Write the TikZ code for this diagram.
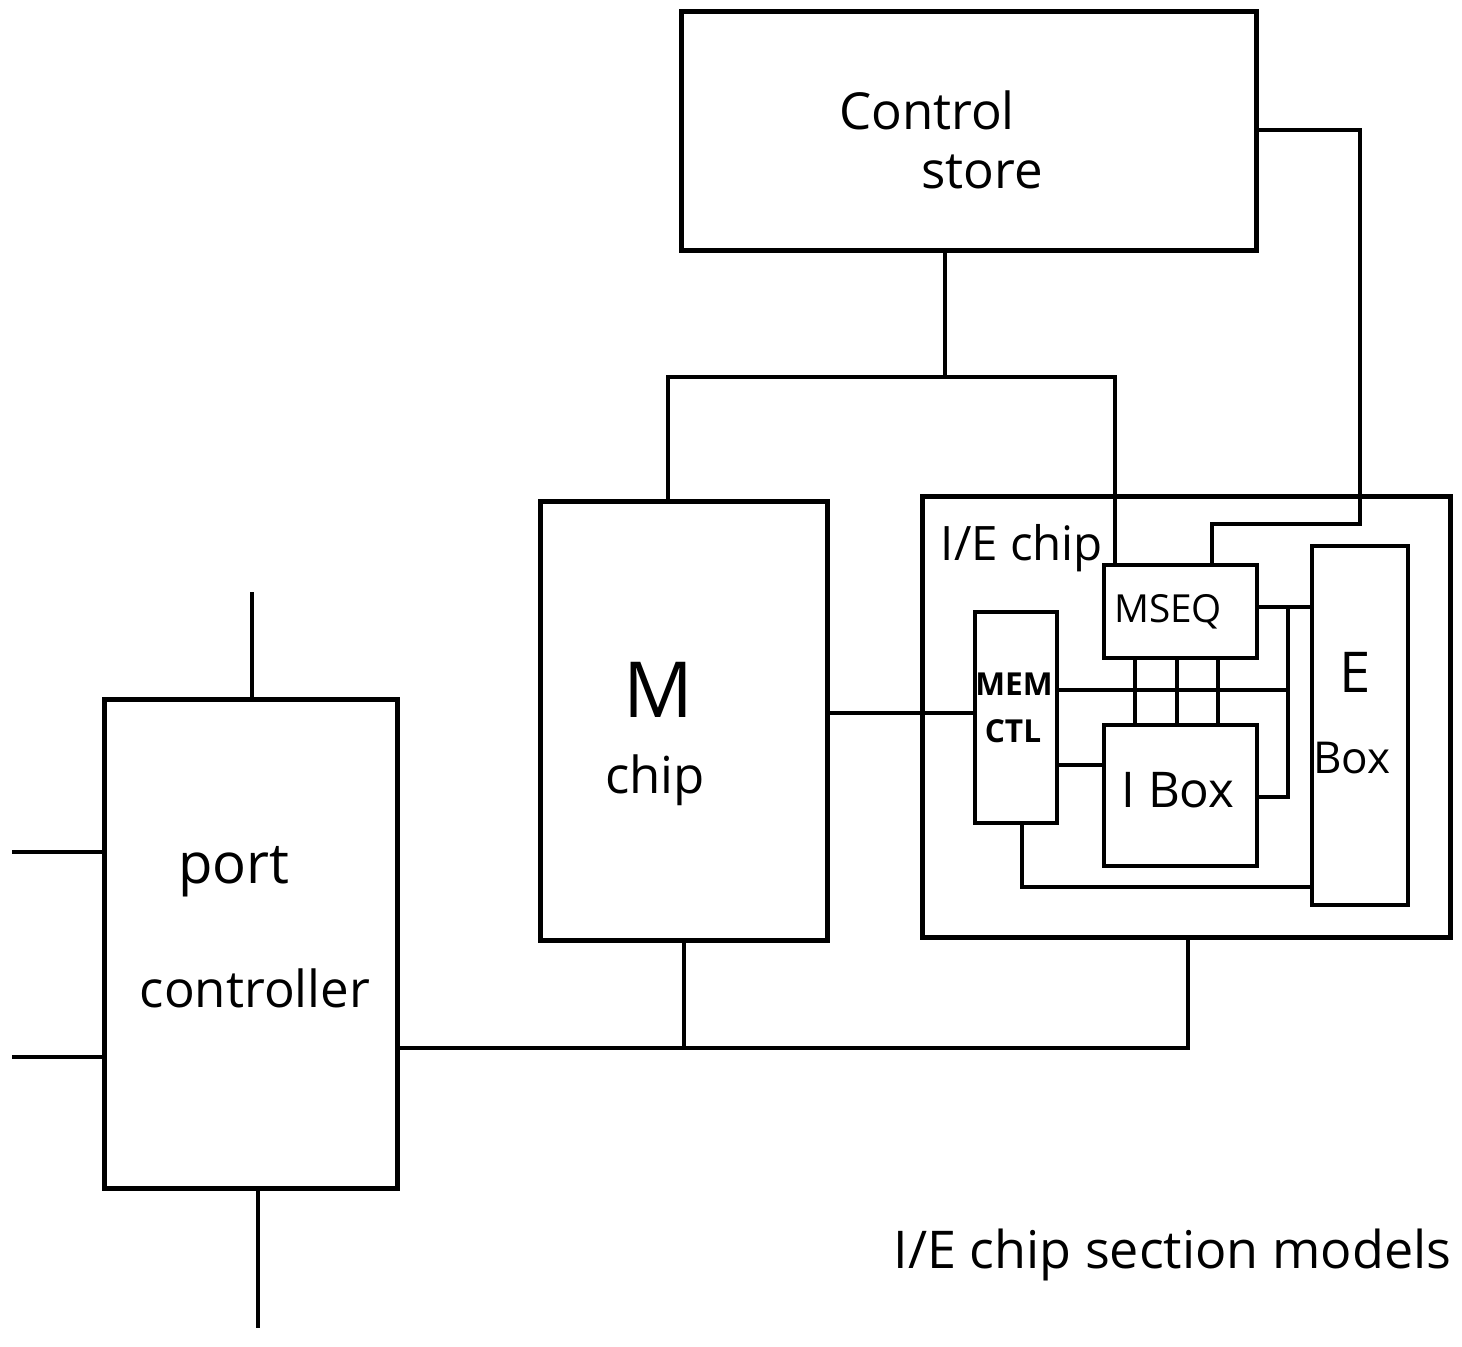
\documentclass[tikz,border=0pt]{standalone}
\usepackage{fontspec}
\setmainfont{Open Sans}
\begin{document}
\begin{tikzpicture}[x=0.01cm,y=-0.01cm,
  blk/.style={draw,line width=1.4pt,rectangle,inner sep=0pt},
  sub/.style={draw,line width=1.1pt,rectangle,inner sep=0pt},
  wire/.style={line width=1.2pt},
  thin/.style={line width=0.9pt},
  big/.style={font=\fontsize{14.5}{17}\selectfont,inner sep=0pt},
  mid/.style={font=\fontsize{13}{16}\selectfont,inner sep=0pt},
  small/.style={font=\fontsize{9}{11}\selectfont\bfseries,inner sep=0pt}]
\useasboundingbox (0,0) rectangle (1462,1347);
% boxes
\node[blk,minimum width=5.74cm,minimum height=2.38cm] (cs) at (969,131) {};
\node[blk,minimum width=2.86cm,minimum height=4.38cm] (mchip) at (684,721) {};
\node[blk,minimum width=2.92cm,minimum height=4.88cm] (pc) at (251,944) {};
\node[blk,minimum width=5.27cm,minimum height=4.40cm] (ie) at (1186.5,717) {};
\node[sub,minimum width=0.82cm,minimum height=2.11cm] (memctl) at (1016,717.5) {};
\node[sub,minimum width=1.53cm,minimum height=0.93cm] (mseq) at (1180.5,611.5) {};
\node[sub,minimum width=1.53cm,minimum height=1.41cm] (ibox) at (1180.5,795.5) {};
\node[sub,minimum width=0.96cm,minimum height=3.59cm] (ebox) at (1360,725.5) {};
% texts
\node[big] (t1) at (927,110) {Control};
\node[big] (t2) at (982,172) {store};
\node[big,font=\fontsize{22}{26}\selectfont] (t3) at (658,690) {M};
\node[big] (t4) at (655,780) {chip};
\node[big,font=\fontsize{16}{19}\selectfont] (t5) at (234,872) {port};
\node[big] (t6) at (255,988) {controller};
\node[mid,font=\fontsize{13.5}{16}\selectfont] (t7) at (1022,548) {I/E chip};
\node[mid,font=\fontsize{11}{13}\selectfont] (t8) at (1168,612) {MSEQ};
\node[small] (t9) at (1014,684) {MEM};
\node[small] (t10) at (1013,731) {CTL};
\node[mid,font=\fontsize{14}{17}\selectfont] (t11) at (1178,790) {I Box};
\node[mid,font=\fontsize{16}{19}\selectfont] (t12) at (1355,672) {E};
\node[mid,font=\fontsize{12.5}{15}\selectfont] (t13) at (1352,758) {Box};
\node[big,anchor=west,font=\fontsize{14.8}{17}\selectfont] (t14) at (893,1255) {I/E chip section models};
% control store connections
\coordinate (jl) at (668,377);
\coordinate (jr) at (1115,377);
\draw[wire] (945,377 |- cs.south) -- (945,377);
\draw[wire] (jl |- mchip.north) -- (jl) -- (jr) -- (jr |- mseq.north);
\coordinate (c1) at (1360,130);
\coordinate (c2) at (1212,524);
\draw[wire] (c1 -| cs.east) -- (c1) -- (c1 |- c2) -- (c2) -- (c2 |- mseq.north);
% M chip to MEM CTL
\draw[wire] (mchip.east |- 0,713) -- (memctl.west |- 0,713);
% inside I/E chip
\coordinate (b1) at (1288,607);
\coordinate (b2) at (1288,797);
\draw[thin] (mseq.east |- b1) -- (ebox.west |- b1);
\draw[thin] (b1) -- (b2) -- (ibox.east |- b2);
\draw[thin] (memctl.east |- 0,690) -- (1288,690);
\foreach \xx in {1135,1177,1218}
  \draw[thin] (mseq.south -| \xx,0) -- (ibox.north -| \xx,0);
\draw[thin] (memctl.east |- 0,765) -- (ibox.west |- 0,765);
\draw[thin] (memctl.south -| 1022,0) -- (1022,887) -- (ebox.west |- 0,887);
% bottom bus
\draw[wire] (pc.east |- 0,1048) -- (1188,1048) -- (ie.south -| 1188,0);
\draw[wire] (mchip.south -| 684,0) -- (684,1048);
% port controller lines
\draw[wire] (pc.north -| 252,0) -- (252,592);
\draw[wire] (pc.south -| 258,0) -- (258,1328);
\draw[wire] (pc.west |- 0,852) -- (12,852);
\draw[wire] (pc.west |- 0,1057) -- (12,1057);
\end{tikzpicture}
\end{document}
